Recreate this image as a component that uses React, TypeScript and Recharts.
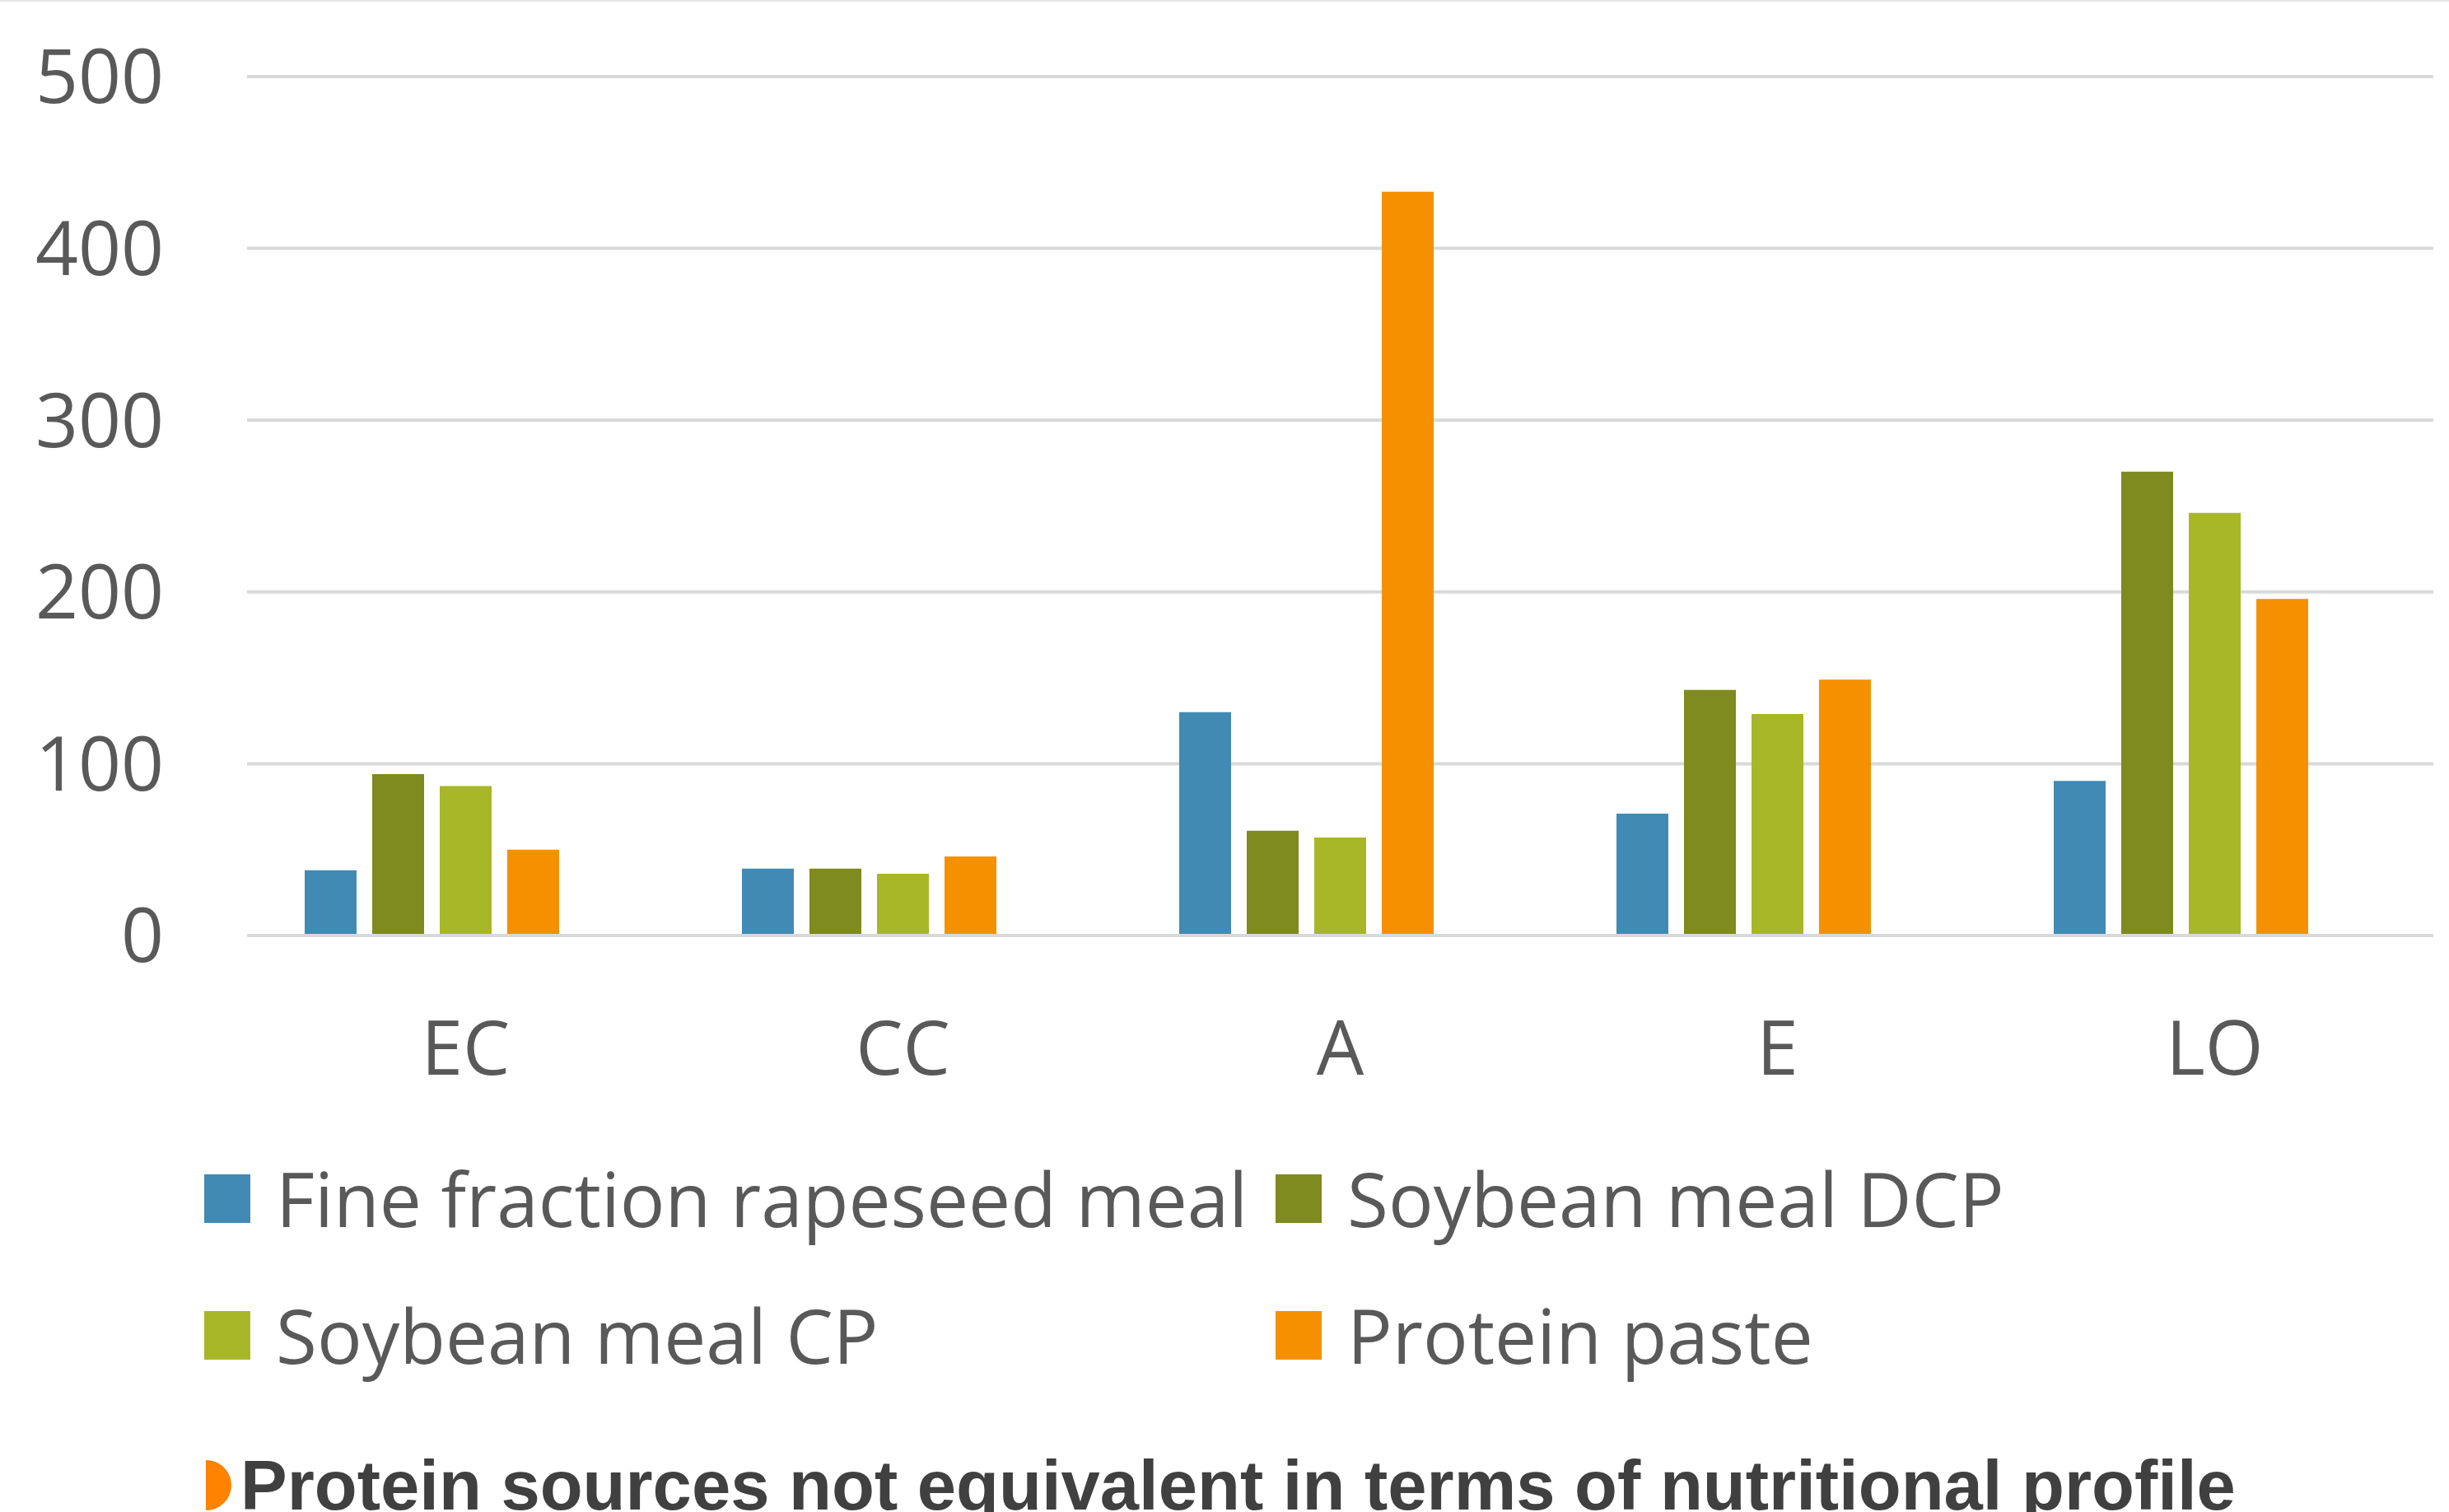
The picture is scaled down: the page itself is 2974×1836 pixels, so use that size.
import { BarChart, Bar, XAxis, YAxis, CartesianGrid } from 'recharts';

const categories = ['EC', 'CC', 'A', 'E', 'LO'];
const fineFraction = [38, 39, 130, 71, 90];
const soyDCP = [94, 39, 61, 143, 270];
const soyCP = [87, 36, 57, 129, 246];
const proteinPaste = [50, 46, 433, 149, 196];
const yTicks = [0, 100, 200, 300, 400, 500];

const seriesNames = ['Fine fraction rapeseed meal', 'Soybean meal DCP', 'Soybean meal CP', 'Protein paste'];
const seriesColors = ['#418AB3', '#7F8A1F', '#A7B727', '#F59100'];
const seriesKeys = ['fine', 'dcp', 'cp', 'paste'];

const data = categories.map((c, i) => ({
    cat: c,
    fine: fineFraction[i],
    dcp: soyDCP[i],
    cp: soyCP[i],
    paste: proteinPaste[i],
}));

const FONT = '"Open Sans", sans-serif';

export default function App() {
    return (
        <div
            style={{
                position: 'absolute',
                left: 0,
                top: 0,
                width: 2974,
                height: 1836,
                overflow: 'hidden',
                background: '#fff',
                borderTop: '2px solid #e6e6e6',
                boxSizing: 'border-box',
            }}
        >
            <div style={{ position: 'absolute', left: 0, top: 0 }}>
                <BarChart
                    width={2974}
                    height={1340}
                    data={data}
                    margin={{ top: 91, right: 19, left: 0, bottom: 0 }}
                    barSize={63}
                    barGap={19}
                >
                    <CartesianGrid vertical={false} stroke="#d9d9d9" strokeWidth={4} />
                    <XAxis
                        dataKey="cat"
                        height={206}
                        axisLine={{ stroke: '#d9d9d9', strokeWidth: 4 }}
                        tickLine={false}
                        tickSize={0}
                        tickMargin={104}
                        tick={{ fill: '#595959', fontSize: 91, fontFamily: FONT }}
                    />
                    <YAxis
                        width={300}
                        domain={[0, 500]}
                        ticks={yTicks}
                        interval={0}
                        axisLine={false}
                        tickLine={false}
                        tickSize={0}
                        tickMargin={101}
                        tick={{ fill: '#595959', fontSize: 91, fontFamily: FONT }}
                    />
                    {seriesKeys.map((k, i) => (
                        <Bar key={k} dataKey={k} name={seriesNames[i]} fill={seriesColors[i]} isAnimationActive={false} />
                    ))}
                    {/* empty fifth series slot, as in the source chart, shifts the groups left */}
                    <Bar dataKey="empty" fill="none" legendType="none" isAnimationActive={false} />
                </BarChart>
            </div>

            {/* legend, two columns */}
            {seriesNames.map((name, i) => (
                <div
                    key={name}
                    style={{
                        position: 'absolute',
                        left: 248 + (i % 2) * 1301,
                        top: 1424 + Math.floor(i / 2) * 166,
                        display: 'flex',
                        alignItems: 'center',
                        height: 59,
                    }}
                >
                    <div style={{ width: 56, height: 59, background: seriesColors[i], flexShrink: 0 }} />
                    <span
                        style={{
                            marginLeft: 31,
                            fontFamily: FONT,
                            fontSize: 91,
                            lineHeight: '59px',
                            color: '#595959',
                            whiteSpace: 'nowrap',
                        }}
                    >
                        {name}
                    </span>
                </div>
            ))}

            {/* bottom note */}
            <div
                style={{
                    position: 'absolute',
                    left: 250,
                    top: 1771,
                    width: 31,
                    height: 61,
                    background: '#FF8200',
                    borderRadius: '0 31px 31px 0 / 0 31px 31px 0',
                }}
            />
            <div
                style={{
                    position: 'absolute',
                    left: 292,
                    top: 1771 - 19,
                    fontFamily: '"Liberation Sans", Arial, sans-serif',
                    fontWeight: 700,
                    fontSize: 85,
                    lineHeight: '100px',
                    color: '#404040',
                    whiteSpace: 'nowrap',
                }}
            >
                Protein sources not equivalent in terms of nutritional profile
            </div>
        </div>
    );
}
